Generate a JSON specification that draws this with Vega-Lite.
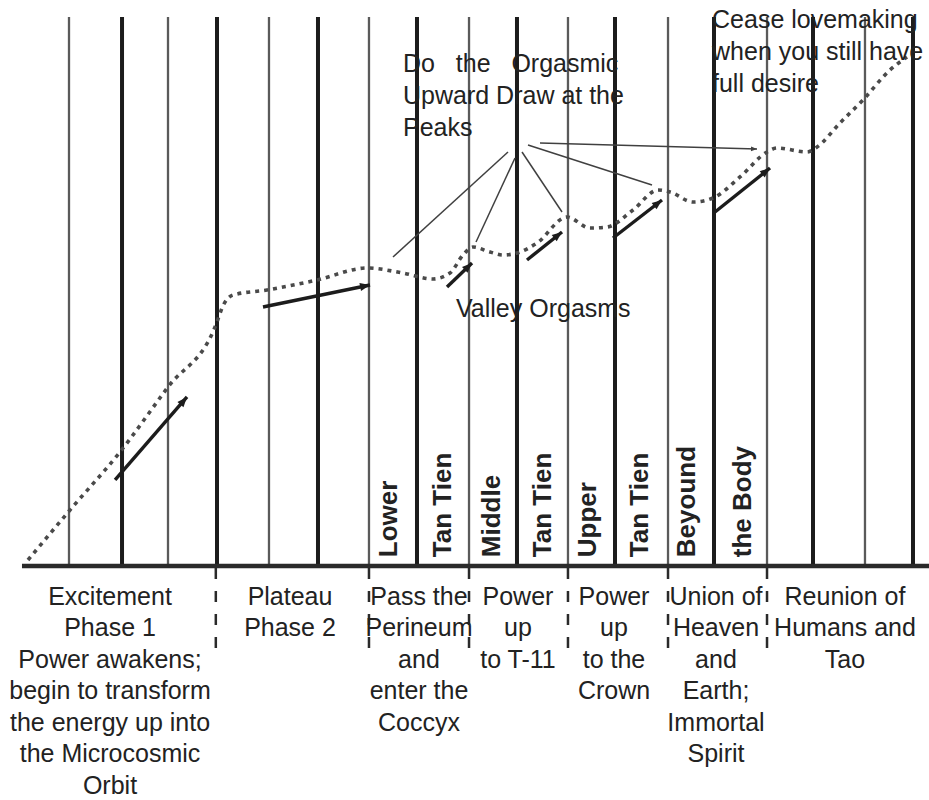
{
  "$schema": "https://vega.github.io/schema/vega-lite/v6.json",
  "width": 929,
  "height": 800,
  "padding": 0,
  "autosize": {"type": "none"},
  "background": "white",
  "view": {"stroke": null},
  "config": {"font": "Liberation Sans"},
  "datasets": {
    "grid": [
      {"x": 1.000, "y": 0, "y2": 99.8, "kind": "minor"},
      {"x": 2.069, "y": 0, "y2": 99.8, "kind": "major"},
      {"x": 2.996, "y": 0, "y2": 99.8, "kind": "minor"},
      {"x": 3.984, "y": 0, "y2": 99.8, "kind": "major"},
      {"x": 5.032, "y": 0, "y2": 99.8, "kind": "minor"},
      {"x": 6.020, "y": 0, "y2": 99.8, "kind": "major"},
      {"x": 7.048, "y": 0, "y2": 99.8, "kind": "minor"},
      {"x": 8.016, "y": 0, "y2": 99.8, "kind": "major"},
      {"x": 9.065, "y": 0, "y2": 99.8, "kind": "minor"},
      {"x": 10.032, "y": 0, "y2": 99.8, "kind": "major"},
      {"x": 11.060, "y": 0, "y2": 99.8, "kind": "minor"},
      {"x": 12.008, "y": 0, "y2": 99.8, "kind": "major"},
      {"x": 13.077, "y": 0, "y2": 99.8, "kind": "minor"},
      {"x": 14.004, "y": 0, "y2": 99.8, "kind": "major"},
      {"x": 15.073, "y": 0, "y2": 99.8, "kind": "minor"},
      {"x": 16.000, "y": 0, "y2": 99.8, "kind": "major"},
      {"x": 17.048, "y": 0, "y2": 99.8, "kind": "minor"},
      {"x": 18.016, "y": 0, "y2": 99.8, "kind": "major"}
    ],
    "baseline": [{"x": 0.052, "y": 0, "x2": 18.339, "y2": 0}],
    "separators": [
      {"x": 3.96, "y": -0.36, "y2": -15.82},
      {"x": 7.048, "y": -0.36, "y2": -15.82},
      {"x": 9.065, "y": -0.36, "y2": -15.82},
      {"x": 11.060, "y": -0.36, "y2": -15.82},
      {"x": 13.077, "y": -0.36, "y2": -15.82},
      {"x": 15.073, "y": -0.36, "y2": -15.82}
    ],
    "curve": [
      {"x": 0.173, "y": 1.09},
      {"x": 1.020, "y": 10.18},
      {"x": 2.028, "y": 20.73},
      {"x": 2.996, "y": 32.55},
      {"x": 3.984, "y": 44.36},
      {"x": 4.085, "y": 46.91},
      {"x": 4.307, "y": 49.27},
      {"x": 4.992, "y": 50.18},
      {"x": 6.000, "y": 52.00},
      {"x": 7.008, "y": 54.18},
      {"x": 7.734, "y": 53.27},
      {"x": 8.339, "y": 52.18},
      {"x": 8.681, "y": 53.27},
      {"x": 8.944, "y": 56.55},
      {"x": 9.145, "y": 58.00},
      {"x": 9.488, "y": 57.09},
      {"x": 9.750, "y": 56.55},
      {"x": 10.032, "y": 56.91},
      {"x": 10.436, "y": 58.73},
      {"x": 11.040, "y": 63.45},
      {"x": 11.504, "y": 61.45},
      {"x": 11.851, "y": 61.64},
      {"x": 12.371, "y": 64.73},
      {"x": 12.875, "y": 68.36},
      {"x": 13.117, "y": 68.00},
      {"x": 13.581, "y": 66.18},
      {"x": 13.984, "y": 66.91},
      {"x": 14.528, "y": 70.73},
      {"x": 15.073, "y": 75.27},
      {"x": 15.274, "y": 76.00},
      {"x": 15.879, "y": 75.27},
      {"x": 16.081, "y": 76.18},
      {"x": 16.544, "y": 80.55},
      {"x": 17.008, "y": 84.73},
      {"x": 17.552, "y": 90.18},
      {"x": 17.895, "y": 92.55}
    ],
    "segments": [
      {"x": 1.929, "y": 15.64, "x2": 3.379, "y2": 30.73, "kind": "arrow"},
      {"x": 4.911, "y": 47.09, "x2": 7.069, "y2": 51.09, "kind": "arrow"},
      {"x": 8.621, "y": 50.73, "x2": 9.125, "y2": 55.09, "kind": "arrow"},
      {"x": 10.234, "y": 55.64, "x2": 10.940, "y2": 60.73, "kind": "arrow"},
      {"x": 11.968, "y": 59.64, "x2": 12.956, "y2": 66.55, "kind": "arrow"},
      {"x": 14.024, "y": 64.36, "x2": 15.133, "y2": 72.36, "kind": "arrow"},
      {"x": 7.532, "y": 56.18, "x2": 9.851, "y2": 75.27, "kind": "leader"},
      {"x": 9.206, "y": 58.91, "x2": 9.992, "y2": 74.18, "kind": "leader"},
      {"x": 10.133, "y": 75.27, "x2": 10.940, "y2": 64.36, "kind": "leader"},
      {"x": 10.254, "y": 76.55, "x2": 12.754, "y2": 69.27, "kind": "leader"},
      {"x": 10.496, "y": 76.91, "x2": 14.871, "y2": 75.82, "kind": "pointer"}
    ],
    "phases": [
      {"x": 1.827, "y": -7.09, "label": "Excitement\nPhase 1\nPower awakens;\nbegin to transform\nthe energy up into\nthe Microcosmic\nOrbit"},
      {"x": 5.456, "y": -7.09, "label": "Plateau\nPhase 2"},
      {"x": 8.056, "y": -7.09, "label": "Pass the\nPerineum\nand\nenter the\nCoccyx"},
      {"x": 10.052, "y": -7.09, "label": "Power\nup\nto T-11"},
      {"x": 11.988, "y": -7.09, "label": "Power\nup\nto the\nCrown"},
      {"x": 14.044, "y": -7.09, "label": "Union of\nHeaven\nand\nEarth;\nImmortal\nSpirit"},
      {"x": 16.645, "y": -7.09, "label": "Reunion of\nHumans and\nTao"}
    ],
    "zones": [
      {"x": 7.452, "y": 1.6, "label": "Lower"},
      {"x": 8.540, "y": 1.6, "label": "Tan Tien"},
      {"x": 9.528, "y": 1.6, "label": "Middle"},
      {"x": 10.556, "y": 1.6, "label": "Tan Tien"},
      {"x": 11.464, "y": 1.6, "label": "Upper"},
      {"x": 12.512, "y": 1.6, "label": "Tan Tien"},
      {"x": 13.460, "y": 1.6, "label": "Beyound"},
      {"x": 14.589, "y": 1.6, "label": "the Body"}
    ],
    "notes": [
      {"x": 7.734, "y": 89.82, "label": "Do\u00a0\u00a0\u00a0the\u00a0\u00a0\u00a0Orgasmic\nUpward Draw at the\nPeaks"},
      {"x": 13.964, "y": 97.82, "label": "Cease lovemaking\nwhen you still have\nfull desire"},
      {"x": 8.803, "y": 45.27, "label": "Valley Orgasms"}
    ]
  },
  "encoding": {
    "x": {"field": "x", "type": "quantitative", "scale": {"domain": [-0.3911, 18.3387], "nice": false, "zero": false}, "axis": null},
    "y": {"field": "y", "type": "quantitative", "scale": {"domain": [-42.545, 102.909], "nice": false, "zero": false}, "axis": null}
  },
  "layer": [
    {
      "data": {"name": "grid"},
      "transform": [{"filter": "datum.kind === 'minor'"}],
      "mark": {"type": "rule", "color": "#5a5a5a", "strokeWidth": 2.3},
      "encoding": {"y2": {"field": "y2"}}
    },
    {
      "data": {"name": "grid"},
      "transform": [{"filter": "datum.kind === 'major'"}],
      "mark": {"type": "rule", "color": "#1c1c1c", "strokeWidth": 4},
      "encoding": {"y2": {"field": "y2"}}
    },
    {
      "data": {"name": "baseline"},
      "mark": {"type": "rule", "color": "#2a2a2a", "strokeWidth": 4.5},
      "encoding": {"x2": {"field": "x2"}, "y2": {"field": "y2"}}
    },
    {
      "data": {"name": "separators"},
      "mark": {"type": "rule", "color": "#2a2a2a", "strokeWidth": 2.5, "strokeDash": [11, 12]},
      "encoding": {"y2": {"field": "y2"}}
    },
    {
      "data": {"name": "curve"},
      "mark": {"type": "line", "interpolate": "monotone", "color": "#4a4a4a", "strokeWidth": 3.6, "strokeDash": [4, 5]},
      "encoding": {}
    },
    {
      "data": {"name": "segments"},
      "transform": [{"filter": "datum.kind === 'arrow'"}],
      "mark": {"type": "rule", "color": "#1c1c1c", "strokeWidth": 3.4},
      "encoding": {"x2": {"field": "x2"}, "y2": {"field": "y2"}}
    },
    {
      "data": {"name": "segments"},
      "transform": [{"filter": "datum.kind !== 'arrow'"}],
      "mark": {"type": "rule", "color": "#404040", "strokeWidth": 1.5},
      "encoding": {"x2": {"field": "x2"}, "y2": {"field": "y2"}}
    },
    {
      "data": {"name": "segments"},
      "transform": [
        {"filter": "datum.kind === 'arrow'"},
        {"calculate": "atan2(-(datum.y2 - datum.y) * 5.5, (datum.x2 - datum.x) * 49.6) * 180 / PI", "as": "heading"}
      ],
      "mark": {"type": "point", "shape": "M0,0L-2,-0.8L-2,0.8Z", "filled": true, "strokeWidth": 0, "opacity": 1, "color": "#1c1c1c", "size": 100},
      "encoding": {
        "x": {"field": "x2", "type": "quantitative"},
        "y": {"field": "y2", "type": "quantitative"},
        "angle": {"field": "heading", "type": "quantitative", "scale": null}
      }
    },
    {
      "data": {"name": "segments"},
      "transform": [
        {"filter": "datum.kind === 'pointer'"},
        {"calculate": "atan2(-(datum.y2 - datum.y) * 5.5, (datum.x2 - datum.x) * 49.6) * 180 / PI", "as": "heading"}
      ],
      "mark": {"type": "point", "shape": "M0,0L-2,-0.8L-2,0.8Z", "filled": true, "strokeWidth": 0, "opacity": 1, "color": "#404040", "size": 36},
      "encoding": {
        "x": {"field": "x2", "type": "quantitative"},
        "y": {"field": "y2", "type": "quantitative"},
        "angle": {"field": "heading", "type": "quantitative", "scale": null}
      }
    },
    {
      "data": {"name": "phases"},
      "mark": {"type": "text", "align": "center", "baseline": "alphabetic", "fontSize": 25, "lineBreak": "\n", "lineHeight": 31.5, "color": "#222222"},
      "encoding": {"text": {"field": "label", "type": "nominal"}}
    },
    {
      "data": {"name": "zones"},
      "mark": {"type": "text", "align": "left", "baseline": "middle", "angle": 270, "fontSize": 26, "fontWeight": "bold", "color": "#222222"},
      "encoding": {"text": {"field": "label", "type": "nominal"}}
    },
    {
      "data": {"name": "notes"},
      "mark": {"type": "text", "align": "left", "baseline": "alphabetic", "fontSize": 25, "lineBreak": "\n", "lineHeight": 32, "color": "#222222"},
      "encoding": {"text": {"field": "label", "type": "nominal"}}
    }
  ]
}
